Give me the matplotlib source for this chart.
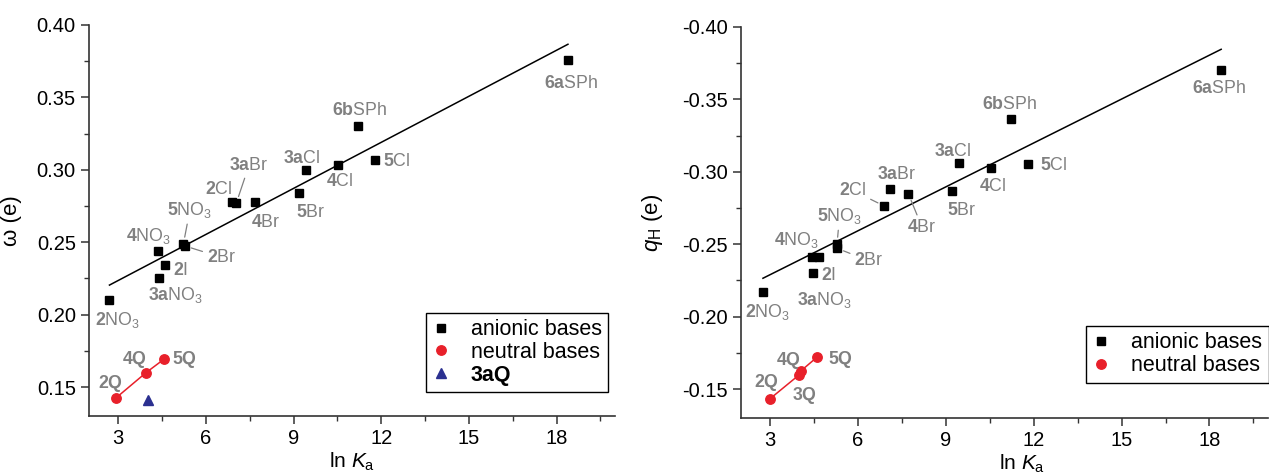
import matplotlib
matplotlib.use("Agg")
import matplotlib.pyplot as plt
from matplotlib.ticker import MultipleLocator

plt.rcParams['font.family'] = ['Liberation Sans', 'DejaVu Sans']
plt.rcParams['mathtext.fontset'] = 'custom'
plt.rcParams['mathtext.rm'] = 'Liberation Sans'
plt.rcParams['mathtext.bf'] = 'Liberation Sans:bold'
plt.rcParams['mathtext.it'] = 'Liberation Sans:italic'
plt.rcParams['axes.unicode_minus'] = False

# ---------------- data ----------------
anion_labels = [r'$\mathbf{2}\mathrm{NO}_3$', r'$\mathbf{4}\mathrm{NO}_3$', r'$\mathbf{2}\mathrm{I}$',
                r'$\mathbf{3a}\mathrm{NO}_3$', r'$\mathbf{5}\mathrm{NO}_3$', r'$\mathbf{2}\mathrm{Br}$',
                r'$\mathbf{2}\mathrm{Cl}$', r'$\mathbf{3a}\mathrm{Br}$', r'$\mathbf{4}\mathrm{Br}$',
                r'$\mathbf{5}\mathrm{Br}$', r'$\mathbf{3a}\mathrm{Cl}$', r'$\mathbf{4}\mathrm{Cl}$',
                r'$\mathbf{5}\mathrm{Cl}$', r'$\mathbf{6b}\mathrm{SPh}$', r'$\mathbf{6a}\mathrm{SPh}$']

w_lnka = [2.69, 4.37, 4.60, 4.41, 5.23, 5.27, 6.88, 7.04, 7.69, 9.18, 9.41, 10.53, 11.77, 11.19, 18.38]
w_omega = [0.210, 0.244, 0.234, 0.225, 0.2488, 0.2475, 0.278, 0.277, 0.278, 0.284, 0.300, 0.303, 0.307, 0.330, 0.376]

q_lnka = [2.75, 4.43, 4.66, 4.45, 5.28, 5.28, 6.89, 7.09, 7.72, 9.21, 9.44, 10.55, 11.79, 11.22, 18.40]
q_qH = [-0.2172, -0.2410, -0.2410, -0.2303, -0.2501, -0.2472, -0.2764, -0.2881, -0.2847, -0.2870,
        -0.3063, -0.3024, -0.3052, -0.3365, -0.3703]

w_fit_x = [2.70, 18.39]
w_fit_y = [0.2204, 0.3867]
q_fit_x = [2.75, 18.40]
q_fit_y = [-0.2265, -0.3846]

w_neutral_labels = [r'$\mathbf{2Q}$', r'$\mathbf{4Q}$', r'$\mathbf{5Q}$']
w_neutral_lnka = [2.93, 3.95, 4.57]
w_neutral_omega = [0.1426, 0.1599, 0.1693]
w_3aQ_lnka = [4.01]
w_3aQ_omega = [0.141]

q_neutral_labels = [r'$\mathbf{2Q}$', r'$\mathbf{3Q}$', r'$\mathbf{4Q}$', r'$\mathbf{5Q}$']
q_neutral_lnka = [2.98, 3.98, 4.05, 4.59]
q_neutral_qH = [-0.1431, -0.1597, -0.1626, -0.1719]

x_ticks = [3, 6, 9, 12, 15, 18]
w_yticks = [0.15, 0.20, 0.25, 0.30, 0.35, 0.40]
q_yticks = [-0.15, -0.20, -0.25, -0.30, -0.35, -0.40]

# ---------------- layout / style ----------------
w_anion_off = [(-14, -19), (-32, 16), (8, -4), (-11, -16), (-16, 35), (22, -10), (-27, 14), (-7, 39),
               (-4, -19), (-3, -18), (-23, 13), (-12, -15), (8, 0), (-26, 17), (-24, -22)]
w_anion_leader = [False, False, False, False, True, True, False, True,
                  False, False, False, False, False, False, False]
q_anion_off = [(-18, -19), (-38, 18), (2, -17), (-16, -26), (-20, 29), (17, -11), (-45, 17), (-13, 16),
               (-1, -32), (-5, -18), (-25, 13), (-12, -17), (12, 0), (-29, 16), (-29, -17)]
q_anion_leader = [False, False, False, False, True, True, True, False,
                  True, False, False, False, False, False, False]
w_neutral_off = [(-18, 16), (-24, 15), (8, 1)]
q_neutral_off = [(-16, 18), (-7, -19), (-25, 12), (11, -1)]

GRAY = '#808080'
RED = '#e8202a'
BLUE = '#2b3090'
LABEL_FS = 12.8
CAP = 6  # half cap-height in px, to convert center offsets to baseline

W, H = 1269, 475
fig = plt.figure(figsize=(W / 100, H / 100), dpi=100)
axL = fig.add_axes([89 / W, (H - 416) / H, (615 - 89) / W, (416 - 25) / H])
axR = fig.add_axes([741 / W, (H - 418) / H, (1268 - 741) / W, (418 - 27) / H])


def style_axes(ax):
    for s in ['top', 'right']:
        ax.spines[s].set_visible(False)
    for s in ['left', 'bottom']:
        ax.spines[s].set_linewidth(1.2)
        ax.spines[s].set_color('#333333')
    ax.tick_params(which='major', direction='out', length=6, width=1.1, labelsize=14.5, color='#333333')
    ax.tick_params(which='minor', direction='out', length=3.5, width=1.0, color='#333333')
    ax.xaxis.set_minor_locator(MultipleLocator(1.5))
    ax.yaxis.set_minor_locator(MultipleLocator(0.025))


def put_labels(ax, xs, ys, labels, offs, leaders=None):
    for i, (x, y, lab, (dx, dy)) in enumerate(zip(xs, ys, labels, offs)):
        kw = {}
        if leaders is not None and leaders[i]:
            kw['arrowprops'] = dict(arrowstyle='-', color=GRAY, lw=0.9, shrinkA=1, shrinkB=5)
        ax.annotate(lab, xy=(x, y), xytext=(dx, dy - CAP), textcoords='offset pixels',
                    ha='left', va='baseline', fontsize=LABEL_FS, color=GRAY, **kw)


def make_legend(ax, x0, y0):
    leg = ax.legend(loc='upper left', bbox_to_anchor=(x0, y0),
                    fontsize=15.5, frameon=True, fancybox=False, edgecolor='black', framealpha=1,
                    handlelength=0.8, handletextpad=1.0, labelspacing=0.08, borderpad=0.3,
                    borderaxespad=0, markerscale=1.0)
    leg.get_frame().set_linewidth(1.0)
    return leg


# ---------------- left panel ----------------
axL.plot(w_fit_x, w_fit_y, color='black', lw=1.1, zorder=2)
axL.plot(w_lnka, w_omega, ls='none', marker='s', ms=6.2, color='black', zorder=3, label='anionic bases')
axL.plot(w_neutral_lnka, w_neutral_omega, color=RED, lw=1.1, zorder=2)
axL.plot(w_neutral_lnka, w_neutral_omega, ls='none', marker='o', ms=6.8, color=RED, zorder=3,
         label='neutral bases')
axL.plot(w_3aQ_lnka, w_3aQ_omega, ls='none', marker='^', ms=7.5, color=BLUE, zorder=3, label='3aQ')
put_labels(axL, w_lnka, w_omega, anion_labels, w_anion_off, w_anion_leader)
put_labels(axL, w_neutral_lnka, w_neutral_omega, w_neutral_labels, w_neutral_off)

axL.set_xlim(2, 20)
axL.set_ylim(0.13, 0.40)
axL.set_xticks(x_ticks)
axL.set_yticks(w_yticks)
axL.set_yticklabels([f'{v:.2f}' for v in w_yticks])
style_axes(axL)
axL.set_ylabel('ω (e)', fontsize=16)
axL.yaxis.set_label_coords(-0.128, 0.5)
axL.set_xlabel(r'ln $K_\mathrm{a}$', fontsize=15)
axL.xaxis.set_label_coords(0.5, -0.09)
legL = make_legend(axL, (425.7 - 89) / 526, (416 - 312.7) / 391)
legL.get_texts()[2].set_fontweight('bold')

# ---------------- right panel ----------------
axR.plot(q_fit_x, q_fit_y, color='black', lw=1.1, zorder=2)
axR.plot(q_lnka, q_qH, ls='none', marker='s', ms=6.2, color='black', zorder=3, label='anionic bases')
axR.plot(q_neutral_lnka, q_neutral_qH, color=RED, lw=1.1, zorder=2)
axR.plot(q_neutral_lnka, q_neutral_qH, ls='none', marker='o', ms=6.8, color=RED, zorder=3,
         label='neutral bases')
put_labels(axR, q_lnka, q_qH, anion_labels, q_anion_off, q_anion_leader)
put_labels(axR, q_neutral_lnka, q_neutral_qH, q_neutral_labels, q_neutral_off)

axR.set_xlim(2, 20)
axR.set_ylim(-0.13, -0.40)
axR.set_xticks(x_ticks)
axR.set_yticks(q_yticks)
axR.set_yticklabels([f'{v:.2f}' for v in q_yticks])
style_axes(axR)
axR.set_ylabel(r'$q_\mathrm{H}$ (e)', fontsize=16)
axR.yaxis.set_label_coords(-0.145, 0.5)
axR.set_xlabel(r'ln $K_\mathrm{a}$', fontsize=15)
axR.xaxis.set_label_coords(0.533, -0.09)
legR = make_legend(axR, (1086 - 741) / 527, (418 - 326) / 391)

fig.savefig('out.png', dpi=100)
